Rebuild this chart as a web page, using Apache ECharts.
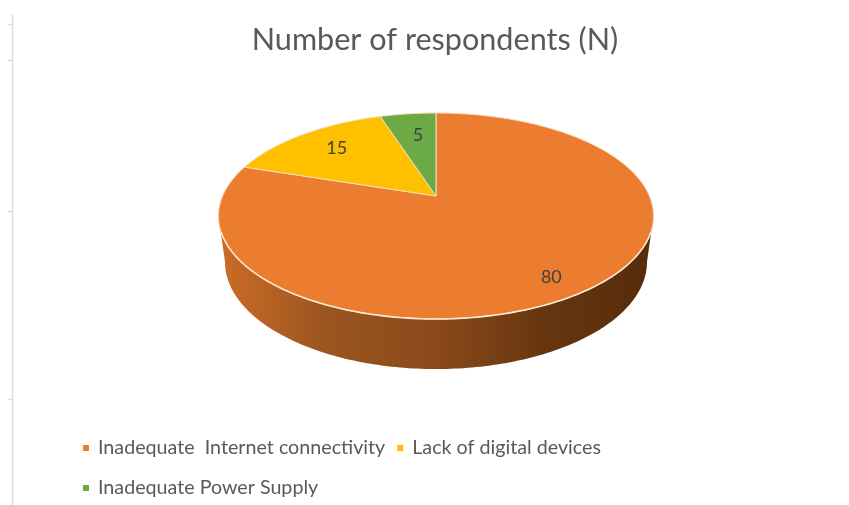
<!DOCTYPE html>
<html>
<head>
<meta charset="utf-8">
<style>html,body{margin:0;padding:0;background:#fff}#chart{width:849px;height:505px}</style>
<script src="https://cdn.jsdelivr.net/npm/echarts@6/dist/echarts.min.js"></script>
</head>
<body>
<div id="chart"></div>
<script>
const chartTitle = 'Number of respondents (N)';
const categories = ['Inadequate  Internet connectivity', 'Lack of digital devices', 'Inadequate Power Supply'];
const values = [80, 15, 5];
const colors = ['#EB7C30', '#FFC000', '#6CAA45'];
const sideStops = ['#CC6D26', '#9A5520', '#8A4A1B', '#66360F', '#562C0D'];

const FONT = 'Lato, sans-serif';
const total = values.reduce((a, b) => a + b, 0);

// Perspective disc: a unit circle projected onto the screen, nearer points spread wider.
const topDisc = { cx: 436, cy: 196, ax: 213.4, by: 99.1, k: 0.194 };
const lowDisc = { cx: 436, cy: 246, ax: 208.6, by: 104.6, k: 0.15 };
const labelReach = [0.84, 0.74, 0.72];
const labelNudge = [[-6, 4], [2, -1], [3, 1]];
const RAD = Math.PI / 180;

function project(disc, deg, r) {
  const u = Math.sin(deg * RAD) * r;
  const v = -Math.cos(deg * RAD) * r;
  const w = 1 - disc.k * v;
  return [disc.cx + disc.ax * u / w, disc.cy + disc.by * v / w];
}

function arc(disc, from, to) {
  const pts = [];
  const n = Math.max(1, Math.ceil(Math.abs(to - from)));
  for (let i = 0; i <= n; i++) pts.push(project(disc, from + (to - from) * i / n, 1));
  return pts;
}

// Angle range of the rim facing the viewer, ending where the disc outline is widest.
function frontRange(disc) {
  const a = Math.acos(disc.k) / RAD;
  return [180 - a, 180 + a];
}

function sliceRange(i) {
  const before = values.slice(0, i).reduce((a, b) => a + b, 0);
  return [before / total * 360, (before + values[i]) / total * 360];
}

function renderSlice(i) {
  return function (params, api) {
    const value = api.value(0);
    const [a0, a1] = sliceRange(i);
    const children = [];

    const [t0, t1] = frontRange(topDisc);
    const [l0, l1] = frontRange(lowDisc);
    const ts = Math.max(a0, t0), te = Math.min(a1, t1);
    if (te > ts) {
      const ls = Math.max(a0, l0), le = Math.min(a1, l1);
      children.push({
        type: 'polygon',
        shape: { points: arc(topDisc, ts, te).concat(arc(lowDisc, le, ls)) },
        style: {
          fill: {
            type: 'linear', x: 0, y: 0, x2: 1, y2: 0,
            colorStops: sideStops.map((c, j) => ({ offset: j / (sideStops.length - 1), color: c }))
          }
        }
      });
    }

    const apex = project(topDisc, 0, 0);
    children.push({
      type: 'polygon',
      shape: { points: [apex].concat(arc(topDisc, a0, a1)) },
      style: { fill: colors[i], stroke: '#F7DDB8', lineWidth: 1, lineJoin: 'round' }
    });

    // Bright lip along the near edge of the top face.
    const hs = Math.max(a0, 110), he = Math.min(a1, 250);
    if (he > hs) {
      children.push({
        type: 'polyline',
        shape: { points: arc(topDisc, hs, he) },
        style: { fill: null, stroke: '#FCE6CF', lineWidth: 1.6 }
      });
    }

    const at = project(topDisc, (a0 + a1) / 2, labelReach[i]);
    children.push({
      type: 'text',
      style: {
        text: String(value), x: at[0] + labelNudge[i][0], y: at[1] + labelNudge[i][1], fill: '#404040',
        fontSize: 18, fontFamily: FONT, align: 'center', verticalAlign: 'middle'
      }
    });
    return { type: 'group', children: children };
  };
}

const legendText = { color: '#595959', fontSize: 19.7, fontFamily: FONT, padding: [0, 0, 0, 4] };

// Faint frame edge with its small ticks down the left side of the page.
const frameTicks = [24, 60, 211, 399];
const frame = [{
  type: 'line', silent: true,
  shape: { x1: 12.5, y1: 14, x2: 12.5, y2: 505 },
  style: { stroke: '#DEDEDE', lineWidth: 1.5 }
}].concat(frameTicks.map(y => ({
  type: 'line', silent: true,
  shape: { x1: 8, y1: y + 0.5, x2: 13, y2: y + 0.5 },
  style: { stroke: '#DEDEDE', lineWidth: 1.5 }
})));

const chart = echarts.init(document.getElementById('chart'), null, { renderer: 'canvas' });
chart.setOption({
  animation: false,
  backgroundColor: '#fff',
  title: {
    text: chartTitle, left: 430, top: 20, textAlign: 'center',
    textStyle: { color: '#595959', fontSize: 30.6, fontWeight: 'normal', fontFamily: FONT }
  },
  legend: [
    {
      data: categories.slice(0, 2), left: 83, top: 438, icon: 'rect', itemWidth: 6, itemHeight: 6,
      itemGap: 12, selectedMode: false, textStyle: legendText, padding: 0
    },
    {
      data: categories.slice(2), left: 83, top: 478, icon: 'rect', itemWidth: 6, itemHeight: 6,
      selectedMode: false, textStyle: legendText, padding: 0
    }
  ],
  graphic: frame,
  series: categories.map((name, i) => ({
    type: 'custom',
    name: name,
    coordinateSystem: 'none',
    silent: true,
    itemStyle: { color: colors[i] },
    renderItem: renderSlice(i),
    data: [[values[i]]]
  }))
});
</script>
</body>
</html>
